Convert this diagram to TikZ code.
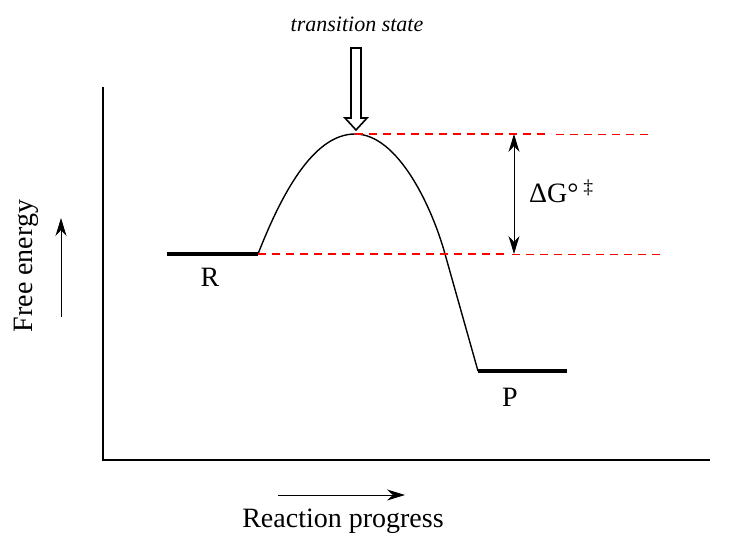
\documentclass[tikz,border=0pt]{standalone}
\usepackage{fontspec}
\setmainfont{Liberation Serif}
\usetikzlibrary{arrows.meta}

\tikzset{
    level/.style={line width=3.5pt},
    guide/.style={red, line width=1.2pt, dash pattern=on 8pt off 6pt},
    faint/.style={guide, line width=0.7pt},
    lbl/.style={font=\fontsize{28}{30}\selectfont, inner sep=0pt},
}

\begin{document}
\begin{tikzpicture}[x=1pt, y=-1pt, >={Stealth[length=18pt, width=11pt]}]
    \useasboundingbox (0,0) rectangle (749,548);

    % Axes
    \draw[line width=1.3pt] (103,87) -- (103,460) -- (710,460);

    % Energy levels
    \coordinate (r0) at (167,254);
    \coordinate (r1) at (258,254);
    \coordinate (ts) at (355,134);
    \coordinate (p0) at (478,371);
    \coordinate (p1) at (567,371);
    \draw[level] (r0) -- (r1);
    \draw[level] (p0) -- (p1);

    % Reaction curve
    \draw[line width=1.4pt] (r1) .. controls (280,198) and (312,134) .. (ts)
        .. controls (398,134) and (432,207) .. (445,254) -- (p0);

    % Reference lines
    \coordinate (tsmid) at (551,134);
    \coordinate (tsend) at (650,134);
    \coordinate (rmid) at (506,254);
    \coordinate (rend) at (660,254);
    \draw[guide] (ts) -- (tsmid);
    \draw[faint] ([xshift=5pt]tsmid) -- (tsend);
    \draw[guide] (r1) -- (rmid);
    \draw[faint] ([xshift=6pt]rmid) -- (rend);

    % Barrier arrow
    \coordinate (gtop) at (514,134);
    \coordinate (gbot) at (514,254);
    \draw[<->, line width=1pt] (gtop) -- (gbot);

    % Pointer to transition state
    \draw[line width=1.6pt, fill=white] (351,48) -- (361,48) -- (361,118) -- (367,118)
        -- (356,130) -- (345,118) -- (351,118) -- cycle;

    % Axis arrows
    \coordinate (e0) at (61,317);
    \coordinate (e1) at (61,218);
    \draw[->, line width=1pt] (e0) -- (e1);
    \coordinate (x0) at (278,495);
    \coordinate (x1) at (405,495);
    \draw[->, line width=1pt] (x0) -- (x1);

    % Labels
    \node[lbl] (rlabel) at (210,277) {R};
    \node[lbl] (plabel) at (510,397) {P};
    \node[inner sep=0pt, font=\fontsize{22}{24}\selectfont\itshape] (tslabel) at (357,24) {transition state};
    \node[lbl, anchor=west] (dg) at (529,191) {ΔG°\,\textsuperscript{‡}};
    \node[lbl, rotate=90] (ylabel) at (26,266) {Free energy};
    \node[lbl] (xlabel) at (343,521) {Reaction progress};
\end{tikzpicture}
\end{document}
